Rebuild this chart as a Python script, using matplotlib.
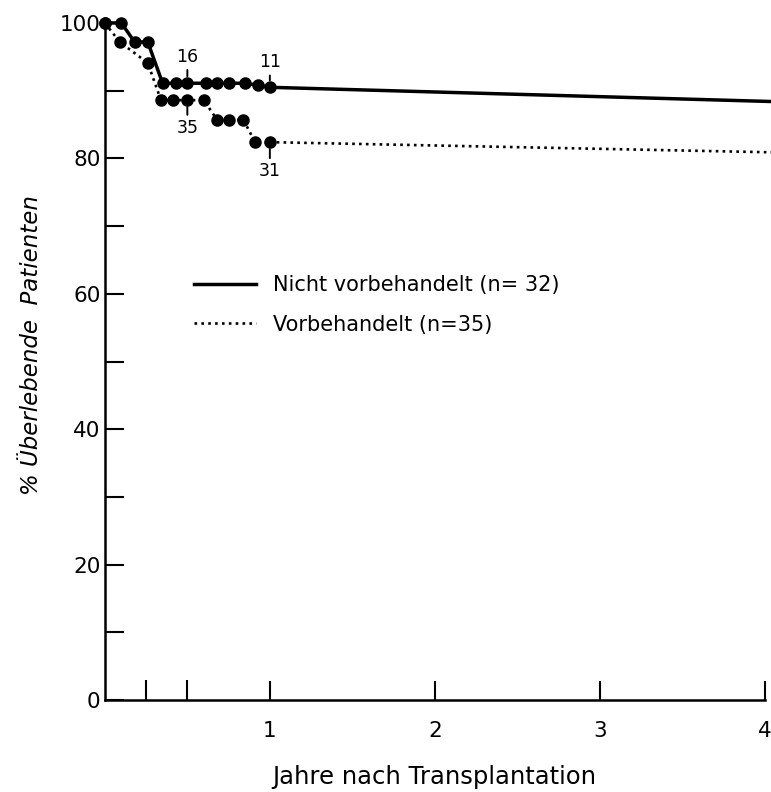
import matplotlib
matplotlib.use('Agg')
import matplotlib.pyplot as plt
from matplotlib.lines import Line2D

plt.rcParams['font.family'] = ['DejaVu Sans']

# Nicht vorbehandelt (n=32) - solid
years_a = [0.0, 0.10, 0.18, 0.26, 0.35, 0.43, 0.50, 0.61, 0.68, 0.75, 0.85, 0.93, 1.00]
surv_a = [100, 100, 97.2, 97.2, 91.1, 91.1, 91.1, 91.1, 91.1, 91.1, 91.1, 90.8, 90.5]
tail_a_x = [1.00, 4.04]
tail_a_y = [90.5, 88.4]

# Vorbehandelt (n=35) - dotted
years_b = [0.0, 0.09, 0.26, 0.34, 0.41, 0.50, 0.60, 0.68, 0.75, 0.84, 0.91, 1.00]
surv_b = [100, 97.2, 94.1, 88.6, 88.6, 88.6, 88.6, 85.7, 85.7, 85.7, 82.4, 82.4]
tail_b_x = [1.00, 4.04]
tail_b_y = [82.4, 80.9]

labels = ['Nicht vorbehandelt (n= 32)', 'Vorbehandelt (n=35)']

# numbers at risk annotations
risk_x = [0.50, 1.00, 0.50, 1.00]
risk_y = [91.1, 90.5, 88.6, 82.4]
risk_text = ['16', '11', '35', '31']
risk_off = [19, 18, -20, -21]

x_major = [1, 2, 3, 4]
x_minor = [0.25, 0.5]
y_major = [0, 20, 40, 60, 80, 100]
y_minor = [10, 30, 50, 70, 90]

fig = plt.figure(figsize=(7.71, 7.92), dpi=100)
ax = fig.add_axes([0.136, 0.116, 0.856, 0.855])

dot_style = (0, (1, 1.6))
ax.plot(years_a, surv_a, '-', color='black', lw=2.5, marker='o', ms=8, clip_on=False, zorder=3)
ax.plot(tail_a_x, tail_a_y, '-', color='black', lw=2.5, clip_on=False, zorder=3)
ax.plot(years_b, surv_b, color='black', lw=1.9, ls=dot_style, marker='o', ms=8, clip_on=False, zorder=3)
ax.plot(tail_b_x, tail_b_y, color='black', lw=1.9, ls=dot_style, clip_on=False, zorder=3)

for x, y, t, off in zip(risk_x, risk_y, risk_text, risk_off):
    ax.annotate(t, xy=(x, y), xytext=(0, off), textcoords='offset points',
                ha='center', va='center', fontsize=12.5,
                arrowprops=dict(arrowstyle='-', color='black', lw=1.4,
                                shrinkA=1, shrinkB=5))

ax.set_xlim(0, 4)
ax.set_ylim(0, 100)
ax.set_xticks(x_major)
ax.set_xticks(x_minor, minor=True)
ax.set_yticks(y_major)
ax.set_yticks(y_minor, minor=True)
ax.set_xticklabels([str(v) for v in x_major])
ax.set_yticklabels([str(v) for v in y_major])

for s in ['top', 'right']:
    ax.spines[s].set_visible(False)
for s in ['left', 'bottom']:
    ax.spines[s].set_linewidth(1.8)

ax.tick_params(axis='y', which='both', direction='in', length=14, width=1.5, pad=3, labelsize=15.5)
ax.tick_params(axis='x', which='major', direction='in', length=13.5, width=1.5, pad=15, labelsize=15.5)
ax.tick_params(axis='x', which='minor', direction='in', length=14.5, width=1.5)

ax.set_xlabel('Jahre nach Transplantation', fontsize=17.5)
ax.xaxis.set_label_coords(0.499, -0.096)
ax.set_ylabel('% Überlebende  Patienten', fontsize=16.5, style='italic')
ax.yaxis.set_label_coords(-0.094, 0.524)

handles = [Line2D([], [], color='black', lw=2.5),
           Line2D([], [], color='black', lw=1.9, ls=dot_style)]
ax.legend(handles, labels, loc='upper left', bbox_to_anchor=(0.135, 0.628),
          frameon=False, fontsize=15, handlelength=3.0, handletextpad=0.8,
          labelspacing=0.95, borderaxespad=0, borderpad=0)

fig.savefig('out.png', dpi=100)
